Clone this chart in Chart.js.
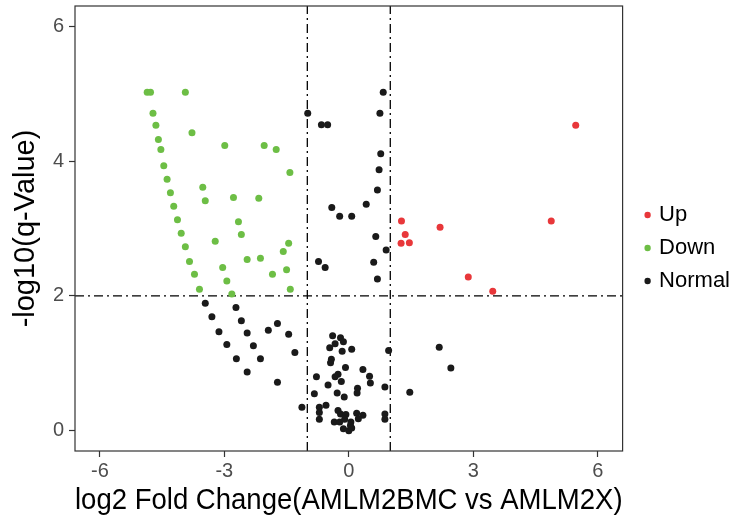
<!DOCTYPE html>
<html>
<head>
<meta charset="utf-8">
<script src="https://cdn.jsdelivr.net/npm/chart.js@4.4.1/dist/chart.umd.min.js"></script>
<style>
  html, body { margin: 0; padding: 0; background: #fff; }
  #wrap { width: 735px; height: 523px; }
</style>
</head>
<body>
<div id="wrap"><canvas id="c" width="735" height="523"></canvas></div>
<script>
// ---- Data ----
const categories = ['Up', 'Down', 'Normal'];

const upX = [1.27, 1.36, 1.26, 1.46, 2.20, 2.88, 3.47, 4.88, 5.47];
const upY = [3.11, 2.91, 2.78, 2.79, 3.02, 2.28, 2.07, 3.11, 4.53];

const downX = [-4.86, -4.78, -3.94, -4.72, -4.65, -4.59, -4.53, -3.78, -2.99, -2.04,
  -1.75, -1.42, -4.46, -4.38, -4.30, -4.22, -4.13, -4.04, -3.94, -3.84,
  -3.72, -3.60, -3.52, -3.46, -2.78, -2.17, -2.66, -2.59, -3.22, -1.45,
  -1.58, -2.45, -2.13, -3.04, -1.84, -1.50, -2.94, -1.41, -2.82];
const downY = [5.02, 5.02, 5.02, 4.71, 4.53, 4.32, 4.17, 4.42, 4.23, 4.23,
  4.17, 3.83, 3.93, 3.73, 3.53, 3.33, 3.13, 2.93, 2.73, 2.51,
  2.32, 2.10, 3.61, 3.41, 3.46, 3.45, 3.10, 2.91, 2.81, 2.78,
  2.66, 2.54, 2.56, 2.42, 2.32, 2.39, 2.22, 2.10, 2.03];

const normalX = [-0.99, -0.66, -0.51, 0.83, 0.75, 0.77, 0.73, 0.69, 0.42, -0.41,
  -0.22, 0.07, 0.65, 0.90, -0.73, -0.57, 0.60, 0.69,
  -3.46, -3.30, -3.13, -2.94, -2.71, -2.45, -2.72, -2.59, -2.45, -2.30,
  -2.13, -1.94, -1.72, -1.45, -1.30, -1.72, -1.13,
  -0.39, -0.20, -0.13, -0.33, -0.46, -0.16, 0.07, -0.42, -0.44, -0.08,
  0.34, 0.50, 0.52, 0.96, -0.78, -0.26, -0.33, -0.18, -0.50, 0.21,
  0.20, 0.87, -0.83, -0.28, -0.11, 1.47, -0.55, -0.71, -0.71, -0.71,
  -0.26, -0.20, -0.07, -0.10, 0.19, 0.34, 0.23, -0.35, -0.22, 0.05,
  0.04, -0.13, 0.00, 0.07, 0.87, 0.87, 2.18, 2.46];
const normalY = [4.71, 4.54, 4.54, 5.02, 4.71, 4.11, 3.87, 3.57, 3.36, 3.31,
  3.18, 3.18, 2.88, 2.68, 2.51, 2.42, 2.50, 2.25,
  1.89, 1.69, 1.47, 1.28, 1.07, 0.87, 1.83, 1.63, 1.45, 1.26,
  1.07, 1.49, 1.59, 1.43, 1.16, 0.72, 0.35,
  1.41, 1.38, 1.32, 1.29, 1.23, 1.18, 1.21, 1.06, 1.01, 0.94,
  0.91, 0.81, 0.71, 1.19, 0.80, 0.84, 0.80, 0.73, 0.68, 0.63,
  0.56, 0.65, 0.55, 0.56, 0.50, 0.57, 0.38, 0.35, 0.27, 0.17,
  0.30, 0.25, 0.24, 0.17, 0.26, 0.23, 0.18, 0.13, 0.13, 0.13,
  0.08, 0.03, 0.00, 0.04, 0.25, 0.17, 1.24, 0.93];

const xTicks = [-6, -3, 0, 3, 6];
const yTicks = [0, 2, 4, 6];
const xLimits = [-6.6, 6.6];
const yLimits = [-0.3, 6.3];
const fcCutoffs = [-1, 1];
const qCutoff = 2;

// ---- Build ----
const colors = { Up: '#E8373A', Down: '#6DBE45', Normal: '#1A1A1A' };
const pairs = (xs, ys) => xs.map((x, i) => ({ x: x, y: ys[i] }));
const seriesData = { Up: pairs(upX, upY), Down: pairs(downX, downY), Normal: pairs(normalX, normalY) };

const datasets = categories.map(name => ({
  label: name,
  type: 'scatter',
  data: seriesData[name],
  backgroundColor: colors[name],
  borderWidth: 0,
  pointRadius: 3.5,
  pointHoverRadius: 3.5,
  order: 1
}));

const dash = [9, 4, 2, 4];
fcCutoffs.forEach(fc => {
  datasets.push({
    label: '_v' + fc, type: 'line',
    data: yLimits.map(y => ({ x: fc, y: y })),
    borderColor: '#000', borderWidth: 1.3, borderDash: dash,
    pointRadius: 0, fill: false, order: 2
  });
});
datasets.push({
  label: '_h', type: 'line',
  data: xLimits.map(x => ({ x: x, y: qCutoff })),
  borderColor: '#000', borderWidth: 1.3, borderDash: dash,
  pointRadius: 0, fill: false, order: 2
});

const borderPlugin = {
  id: 'panelBorder',
  afterDraw(chart) {
    const a = chart.chartArea, ctx = chart.ctx;
    ctx.save();
    ctx.strokeStyle = '#333333';
    ctx.lineWidth = 1.2;
    ctx.strokeRect(a.left, a.top, a.right - a.left, a.bottom - a.top);
    ctx.restore();
  }
};

const FONT = "'Liberation Sans', Arial, sans-serif";
const noPad = s => { s.paddingTop = 0; s.paddingBottom = 0; s.paddingLeft = 0; s.paddingRight = 0; };

new Chart(document.getElementById('c'), {
  type: 'scatter',
  data: { datasets: datasets },
  plugins: [borderPlugin],
  options: {
    responsive: false,
    animation: false,
    layout: { padding: { top: 6, right: -5, bottom: 0, left: 0 } },
    plugins: {
      tooltip: { enabled: false },
      legend: {
        position: 'right',
        align: 'start',
        title: { display: true, text: ' ', font: { size: 20, family: FONT }, padding: { top: 163, bottom: 0 } },
        labels: {
          filter: item => !item.text.startsWith('_'),
          usePointStyle: true,
          pointStyle: 'circle',
          boxWidth: 1, boxHeight: 4.5,
          padding: 11,
          color: '#000',
          font: { size: 22, family: FONT }
        }
      }
    },
    scales: {
      x: {
        type: 'linear',
        min: xLimits[0], max: xLimits[1],
        afterBuildTicks: s => { s.ticks = xTicks.map(v => ({ value: v })); },
        afterFit: s => { s.height = 72; noPad(s); },
        grid: { display: true, drawOnChartArea: false, color: '#333', tickLength: 6, tickWidth: 1.2 },
        border: { display: false },
        ticks: { color: '#4D4D4D', font: { size: 20, family: FONT }, padding: 2, maxRotation: 0 },
        title: { display: true, text: 'log2 Fold Change(AMLM2BMC vs AMLM2X)', color: '#000',
          font: { size: 29, family: FONT }, padding: { top: 0, bottom: 5 } }
      },
      y: {
        type: 'linear',
        min: yLimits[0], max: yLimits[1],
        afterBuildTicks: s => { s.ticks = yTicks.map(v => ({ value: v })); },
        afterFit: s => { s.width = 75; noPad(s); },
        grid: { display: true, drawOnChartArea: false, color: '#333', tickLength: 6, tickWidth: 1.2 },
        border: { display: false },
        ticks: { color: '#4D4D4D', font: { size: 20, family: FONT }, padding: 5 },
        title: { display: true, text: '-log10(q-Value)', color: '#000',
          font: { size: 29, family: FONT }, padding: { top: 9, bottom: 0 } }
      },
      yPad: {
        type: 'linear', position: 'right', display: true,
        min: 0, max: 1,
        grid: { display: false }, border: { display: false },
        ticks: { display: false },
        afterFit: s => { s.width = 13.5; noPad(s); }
      }
    }
  }
});
</script>
</body>
</html>
